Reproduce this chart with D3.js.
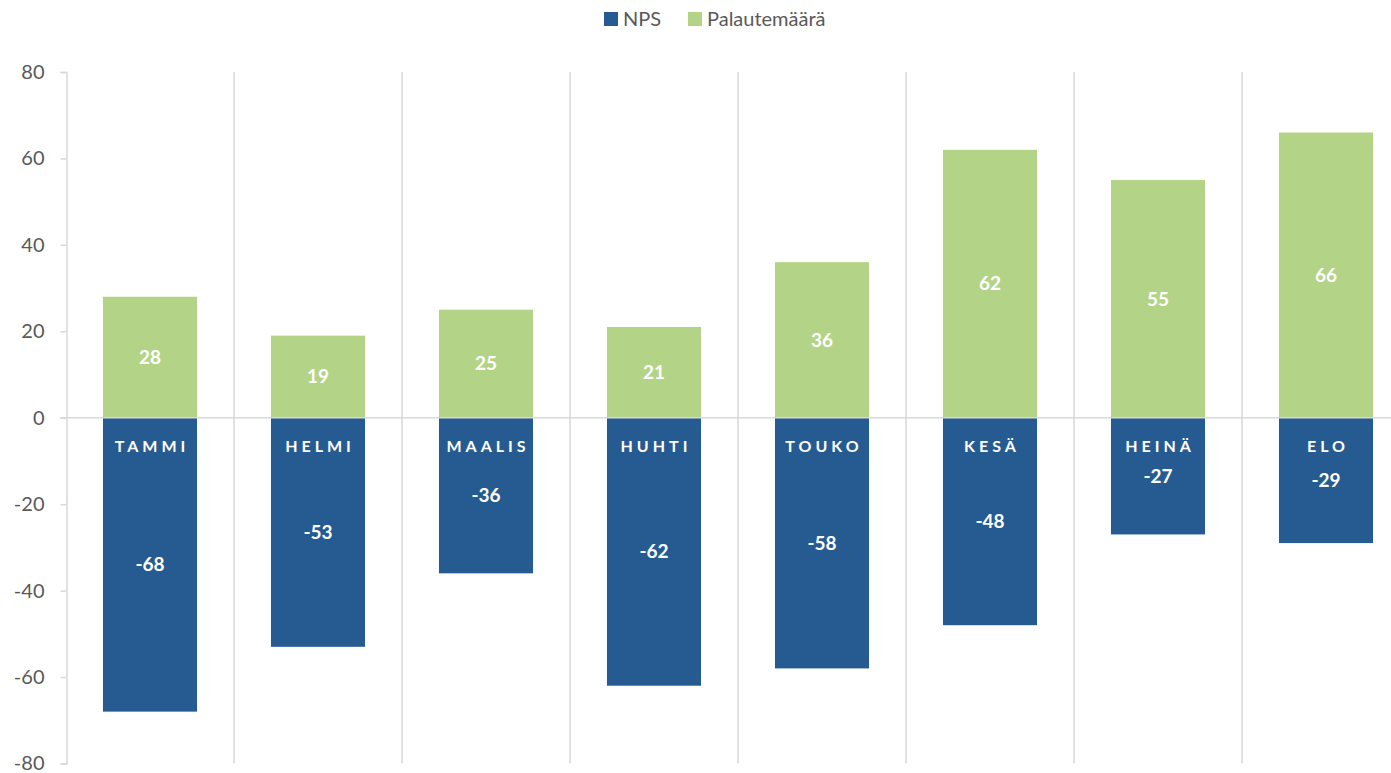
<!DOCTYPE html>
<html>
<head>
<meta charset="utf-8">
<script src="https://cdn.jsdelivr.net/npm/d3@7"></script>
<style>
  body { margin: 0; background: #fff; }
  svg { display: block; font-family: Lato, "Open Sans", sans-serif; }
</style>
</head>
<body>
<div class="chart"></div>
<script>
var months = ["TAMMI", "HELMI", "MAALIS", "HUHTI", "TOUKO", "KESÄ", "HEINÄ", "ELO"];
var nps = [-68, -53, -36, -62, -58, -48, -27, -29];
var palautemaara = [28, 19, 25, 21, 36, 62, 55, 66];
var yTicks = [80, 60, 40, 20, 0, -20, -40, -60, -80];
var seriesNames = ["NPS", "Palautemäärä"];

var width = 1391, height = 773;
var blue = "#265b92", green = "#b3d487";

var svg = d3.select(".chart").append("svg")
    .attr("width", width)
    .attr("height", height);

var x = d3.scaleBand()
    .domain(months)
    .range([66, 1410])
    .paddingInner(0.44)
    .paddingOuter(0.22);

var y = d3.scaleLinear()
    .domain([-80, 80])
    .range([763.5, 72]);

// vertical separators between months
svg.append("g")
    .selectAll("line")
    .data(months)
    .enter()
    .append("line")
    .attr("x1", function (d) { return x(d) - x.step() * 0.22 + x.step(); })
    .attr("x2", function (d) { return x(d) - x.step() * 0.22 + x.step(); })
    .attr("y1", y(80))
    .attr("y2", y(-80))
    .attr("stroke", "#d9d9d9")
    .attr("stroke-width", 1.5);

// y axis
var yAxis = svg.append("g")
    .attr("transform", "translate(66.5,0)")
    .call(d3.axisLeft(y).tickValues(yTicks).tickSize(6).tickPadding(16)
        .tickFormat(function (d) { return String(d); }));
yAxis.select(".domain").attr("stroke", "#d9d9d9").attr("stroke-width", 1.5);
yAxis.selectAll(".tick line").attr("stroke", "#d9d9d9").attr("stroke-width", 1.5);
yAxis.selectAll(".tick text")
    .attr("fill", "#595959")
    .style("font-size", "20px")
    .style("font-family", "Lato, sans-serif");

// bars
var bars = svg.append("g");
bars.selectAll("rect.pal")
    .data(palautemaara)
    .enter()
    .append("rect")
    .attr("class", "pal")
    .attr("x", function (d, i) { return x(months[i]); })
    .attr("width", x.bandwidth())
    .attr("y", function (d) { return y(d); })
    .attr("height", function (d) { return y(0) - y(d); })
    .attr("fill", green);

bars.selectAll("rect.nps")
    .data(nps)
    .enter()
    .append("rect")
    .attr("class", "nps")
    .attr("x", function (d, i) { return x(months[i]); })
    .attr("width", x.bandwidth())
    .attr("y", y(0))
    .attr("height", function (d) { return y(d) - y(0); })
    .attr("fill", blue);

// zero line
svg.append("line")
    .attr("x1", 60)
    .attr("x2", width)
    .attr("y1", y(0))
    .attr("y2", y(0))
    .attr("stroke", "#d9d9d9")
    .attr("stroke-width", 1.5);

// value labels
var labels = svg.append("g")
    .attr("fill", "#fff")
    .attr("font-weight", "bold")
    .attr("font-size", "19px")
    .attr("text-anchor", "middle");

labels.selectAll("text.pal")
    .data(palautemaara)
    .enter()
    .append("text")
    .attr("x", function (d, i) { return x(months[i]) + x.bandwidth() / 2; })
    .attr("y", function (d) { return y(d / 2); })
    .attr("dy", "0.35em")
    .text(function (d) { return d; });

labels.selectAll("text.nps")
    .data(nps)
    .enter()
    .append("text")
    .attr("x", function (d, i) { return x(months[i]) + x.bandwidth() / 2; })
    .attr("y", function (d) { return y(d / 2); })
    .attr("dy", "0.35em")
    .text(function (d) { return d; });

// month names under zero line
svg.append("g")
    .selectAll("text")
    .data(months)
    .enter()
    .append("text")
    .attr("x", function (d) { return x(d) + x.bandwidth() / 2 + 2; })
    .attr("y", y(0) + 34)
    .attr("text-anchor", "middle")
    .attr("fill", "#fff")
    .attr("font-weight", "bold")
    .attr("font-size", "16px")
    .attr("letter-spacing", "4px")
    .text(function (d) { return d; });

// legend
var legend = svg.append("g").attr("transform", "translate(604,0)");
var legendX = [0, 84];
var legendColors = [blue, green];
seriesNames.forEach(function (name, i) {
    legend.append("rect")
        .attr("x", legendX[i])
        .attr("y", 12)
        .attr("width", 14)
        .attr("height", 14)
        .attr("fill", legendColors[i]);
    legend.append("text")
        .attr("x", legendX[i] + 19)
        .attr("y", 26)
        .attr("fill", "#595959")
        .attr("font-size", "20px")
        .text(name);
});
</script>
</body>
</html>
